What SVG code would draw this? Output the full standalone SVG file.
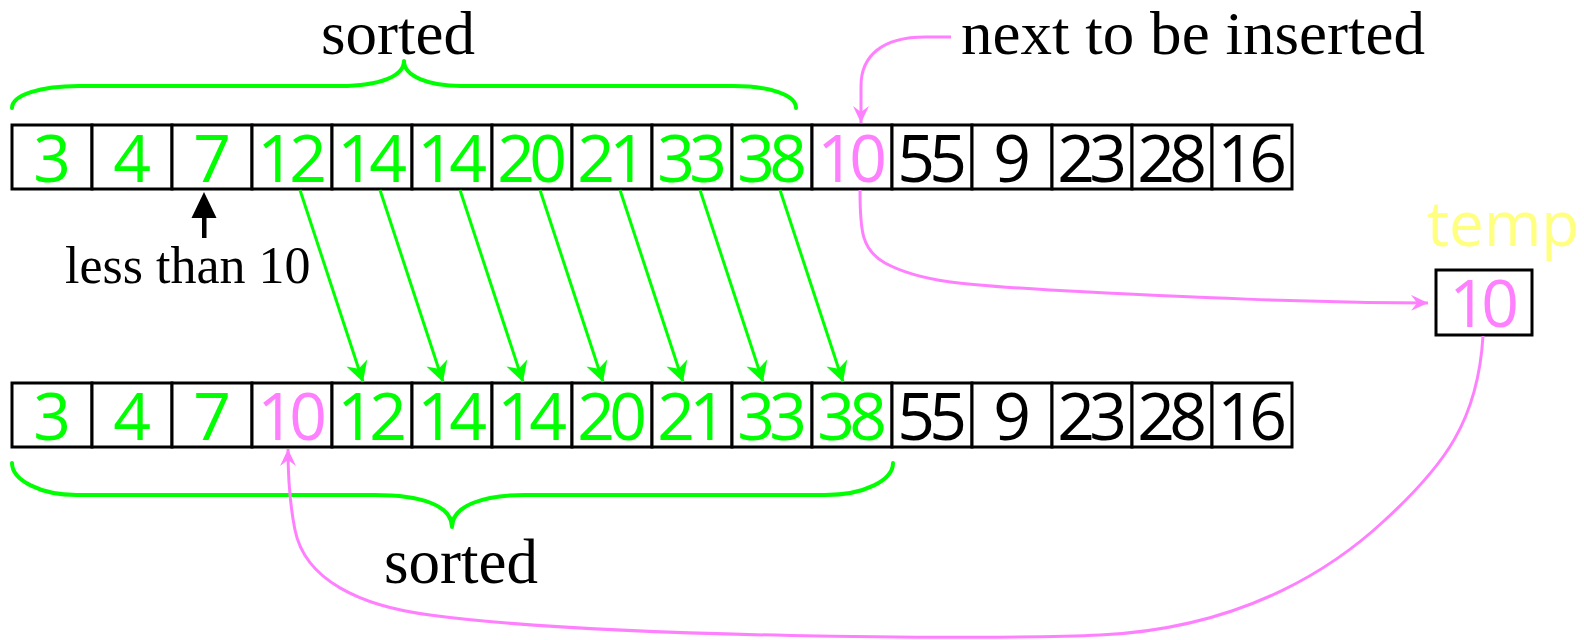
<svg xmlns="http://www.w3.org/2000/svg" width="1584" height="640" viewBox="0 0 1584 640">
  <style>
    .cell { fill: #ffffff; stroke: #000000; stroke-width: 3; }
    .num { font-family: "Open Sans", "DejaVu Sans", sans-serif; font-size: 66px; text-anchor: middle; }
    .g { fill: #00ff00; }
    .p { fill: #ff80ff; }
    .k { fill: #000000; }
    .label { font-family: "Liberation Serif", "Times New Roman", serif; fill: #000000; }
    .brace { fill: none; stroke: #00ff00; stroke-width: 4; stroke-linecap: round; stroke-linejoin: round; }
    .shift { fill: none; stroke: #00ff00; stroke-width: 3; }
    .move { fill: none; stroke: #ff80ff; stroke-width: 3; }
  </style>
  <defs>
    <marker id="headGreen" viewBox="-20 -11 20 22" refX="0" refY="0" markerWidth="20" markerHeight="22" orient="auto" markerUnits="userSpaceOnUse">
      <path d="M0,0 L-20,-11 L-14,0 L-20,11 Z" fill="#00ff00"/>
    </marker>
    <marker id="headPink" viewBox="-17 -8 17 16" refX="0" refY="0" markerWidth="17" markerHeight="16" orient="auto" markerUnits="userSpaceOnUse">
      <path d="M0,0 L-17,-8 L-11,0 L-17,8 Z" fill="#ff80ff"/>
    </marker>
  </defs>

  <rect width="1584" height="640" fill="#ffffff"/>

  <!-- braces and their captions -->
  <g id="brace-top">
    <path class="brace" d="M12 108 C12 95 40 86 79 86 L340 86 C380 86 404 76 404 61 C404 76 428 86 461 86 L733 86 C770 86 796 95 796 108"/>
    <text class="label" x="321" y="54" font-size="61" textLength="154" lengthAdjust="spacingAndGlyphs">sorted</text>
  </g>
  <g id="brace-bottom">
    <path class="brace" d="M12 463 C12 480 40 495 77 495 L375 495 C420 495 452 505 452 527 C452 505 485 495 525 495 L825 495 C865 495 893 480 893 463"/>
    <text class="label" x="384" y="583" font-size="63">sorted</text>
  </g>

  <g id="caption-next">
    <text class="label" x="961" y="54" font-size="61" textLength="464" lengthAdjust="spacingAndGlyphs">next to be inserted</text>
  </g>

  <!-- array before the insertion step -->
  <g id="row-before">
    <rect class="cell" x="12" y="125" width="80" height="64"/>
    <rect class="cell" x="92" y="125" width="80" height="64"/>
    <rect class="cell" x="172" y="125" width="80" height="64"/>
    <rect class="cell" x="252" y="125" width="80" height="64"/>
    <rect class="cell" x="332" y="125" width="80" height="64"/>
    <rect class="cell" x="412" y="125" width="80" height="64"/>
    <rect class="cell" x="492" y="125" width="80" height="64"/>
    <rect class="cell" x="572" y="125" width="80" height="64"/>
    <rect class="cell" x="652" y="125" width="80" height="64"/>
    <rect class="cell" x="732" y="125" width="80" height="64"/>
    <rect class="cell" x="812" y="125" width="80" height="64"/>
    <rect class="cell" x="892" y="125" width="80" height="64"/>
    <rect class="cell" x="972" y="125" width="80" height="64"/>
    <rect class="cell" x="1052" y="125" width="80" height="64"/>
    <rect class="cell" x="1132" y="125" width="80" height="64"/>
    <rect class="cell" x="1212" y="125" width="80" height="64"/>
    <text class="num g" x="52" y="182">3</text>
    <text class="num g" x="132" y="182">4</text>
    <text class="num g" x="212" y="182">7</text>
    <text class="num g" x="276 308" y="182">12</text>
    <text class="num g" x="356 388" y="182">14</text>
    <text class="num g" x="436 468" y="182">14</text>
    <text class="num g" x="516 548" y="182">20</text>
    <text class="num g" x="596 628" y="182">21</text>
    <text class="num g" x="676 708" y="182">33</text>
    <text class="num g" x="756 788" y="182">38</text>
    <text class="num p" x="836 868" y="182">10</text>
    <text class="num k" x="916 948" y="182">55</text>
    <text class="num k" x="1012" y="182">9</text>
    <text class="num k" x="1076 1108" y="182">23</text>
    <text class="num k" x="1156 1188" y="182">28</text>
    <text class="num k" x="1236 1268" y="182">16</text>
  </g>

  <!-- array after the insertion step -->
  <g id="row-after">
    <rect class="cell" x="12" y="383" width="80" height="64"/>
    <rect class="cell" x="92" y="383" width="80" height="64"/>
    <rect class="cell" x="172" y="383" width="80" height="64"/>
    <rect class="cell" x="252" y="383" width="80" height="64"/>
    <rect class="cell" x="332" y="383" width="80" height="64"/>
    <rect class="cell" x="412" y="383" width="80" height="64"/>
    <rect class="cell" x="492" y="383" width="80" height="64"/>
    <rect class="cell" x="572" y="383" width="80" height="64"/>
    <rect class="cell" x="652" y="383" width="80" height="64"/>
    <rect class="cell" x="732" y="383" width="80" height="64"/>
    <rect class="cell" x="812" y="383" width="80" height="64"/>
    <rect class="cell" x="892" y="383" width="80" height="64"/>
    <rect class="cell" x="972" y="383" width="80" height="64"/>
    <rect class="cell" x="1052" y="383" width="80" height="64"/>
    <rect class="cell" x="1132" y="383" width="80" height="64"/>
    <rect class="cell" x="1212" y="383" width="80" height="64"/>
    <text class="num g" x="52" y="440">3</text>
    <text class="num g" x="132" y="440">4</text>
    <text class="num g" x="212" y="440">7</text>
    <text class="num p" x="276 308" y="440">10</text>
    <text class="num g" x="356 388" y="440">12</text>
    <text class="num g" x="436 468" y="440">14</text>
    <text class="num g" x="516 548" y="440">14</text>
    <text class="num g" x="596 628" y="440">20</text>
    <text class="num g" x="676 708" y="440">21</text>
    <text class="num g" x="756 788" y="440">33</text>
    <text class="num g" x="836 868" y="440">38</text>
    <text class="num k" x="916 948" y="440">55</text>
    <text class="num k" x="1012" y="440">9</text>
    <text class="num k" x="1076 1108" y="440">23</text>
    <text class="num k" x="1156 1188" y="440">28</text>
    <text class="num k" x="1236 1268" y="440">16</text>
  </g>

  <!-- temporary holding cell -->
  <g id="temp">
    <text x="1427" y="246" font-family="'Open Sans', 'DejaVu Sans', sans-serif" font-size="62" fill="#ffff80">temp</text>
    <rect class="cell" x="1436" y="270" width="96" height="65"/>
    <text class="num p" x="1468 1500" y="327">10</text>
  </g>

  <!-- pointer to the last element that stays in place -->
  <g id="less-than">
    <path d="M204 192 L191.5 218 L216.5 218 Z" fill="#000000"/>
    <rect x="202" y="216" width="4.5" height="22" fill="#000000"/>
    <text class="label" x="65" y="283" font-size="52">less than 10</text>
  </g>

  <g id="connectors">
    <!-- each sorted element larger than 10 shifts one cell right -->
    <path class="shift" d="M300 190 L363 382" marker-end="url(#headGreen)"/>
    <path class="shift" d="M380 190 L443 382" marker-end="url(#headGreen)"/>
    <path class="shift" d="M460 190 L523 382" marker-end="url(#headGreen)"/>
    <path class="shift" d="M540 190 L603 382" marker-end="url(#headGreen)"/>
    <path class="shift" d="M620 190 L683 382" marker-end="url(#headGreen)"/>
    <path class="shift" d="M700 190 L763 382" marker-end="url(#headGreen)"/>
    <path class="shift" d="M780 190 L843 382" marker-end="url(#headGreen)"/>
    <!-- caption pointer -->
    <path class="move" d="M951 37 L925 37 C882 37 861 56 861 86 L861 123" marker-end="url(#headPink)"/>
    <!-- element copied out to temp -->
    <path class="move" d="M860 190 C860 232 862 250 885 263 C920 282 965 285 1050 290 C1200 298 1300 302 1428 303" marker-end="url(#headPink)"/>
    <!-- temp written back into its slot -->
    <path class="move" d="M1483 336 C1478 420 1445 465 1385 520 C1340 562 1250 628 1100 635 C1000 640 600 638 430 615 C360 606 305 580 295 530 C290 505 288 480 288 449" marker-end="url(#headPink)"/>
  </g>
</svg>
